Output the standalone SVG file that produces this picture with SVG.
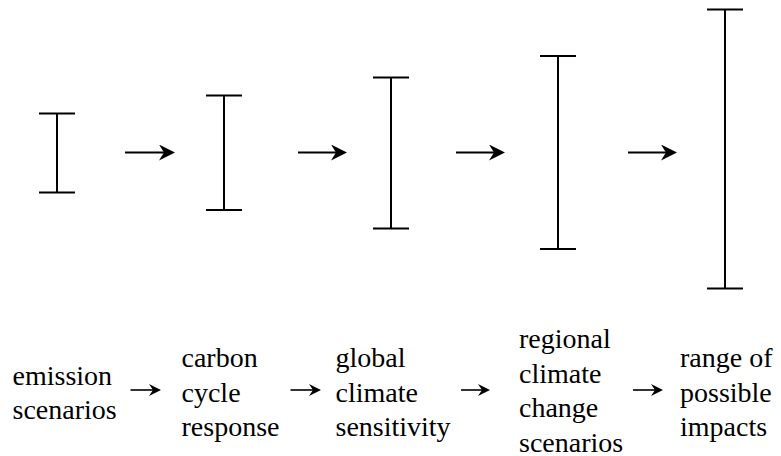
<svg xmlns="http://www.w3.org/2000/svg" width="781" height="456" viewBox="0 0 781 456">
<style>
.bar{stroke:#000;stroke-width:2;fill:none}
.con{stroke:#000;stroke-width:2;fill:none}
.con2{stroke:#000;stroke-width:1.6;fill:none}
.lbl{font-family:'Liberation Serif','Times New Roman',Tinos,'DejaVu Serif',serif;font-size:28px;fill:#000}
</style>
<defs>
<marker id="ah" markerUnits="userSpaceOnUse" viewBox="0 0 16 16" markerWidth="16" markerHeight="16" refX="11" refY="8" orient="auto">
<path d="M0,0 L16,8 L0,16 L5,8 Z" fill="#000"/>
</marker>
<marker id="ah2" markerUnits="userSpaceOnUse" viewBox="0 0 12 12" markerWidth="12" markerHeight="12" refX="8" refY="6" orient="auto">
<path d="M0,0 L12,6 L0,12 L4,6 Z" fill="#000"/>
</marker>
</defs>
<g id="bar1"><path class="bar" d="M57,113.5 V192.5 M39,113.5 H75 M39,192.5 H75"/></g>
<g id="bar2"><path class="bar" d="M224,95.5 V210 M206,95.5 H242 M206,210 H242"/></g>
<g id="bar3"><path class="bar" d="M391,77.5 V228.5 M373,77.5 H409 M373,228.5 H409"/></g>
<g id="bar4"><path class="bar" d="M558,56 V249 M540,56 H576 M540,249 H576"/></g>
<g id="bar5"><path class="bar" d="M725,9.5 V288.5 M707,9.5 H743 M707,288.5 H743"/></g>
<g id="label1" class="lbl"><text x="12.5" y="385">emission</text><text x="12.5" y="418.5">scenarios</text></g>
<g id="label2" class="lbl"><text x="181.5" y="367">carbon</text><text x="181.5" y="401.5">cycle</text><text x="181.5" y="436">response</text></g>
<g id="label3" class="lbl"><text x="335.5" y="367">global</text><text x="335.5" y="401.5">climate</text><text x="335.5" y="436">sensitivity</text></g>
<g id="label4" class="lbl"><text x="519" y="348">regional</text><text x="519" y="382.5">climate</text><text x="519" y="417">change</text><text x="519" y="451.5">scenarios</text></g>
<g id="label5" class="lbl"><text x="680" y="367">range of</text><text x="680" y="401.5">possible</text><text x="680" y="436">impacts</text></g>
<g id="connectors">
<line class="con" x1="125" y1="152.5" x2="170" y2="152.5" marker-end="url(#ah)"/>
<line class="con" x1="298" y1="152.5" x2="342" y2="152.5" marker-end="url(#ah)"/>
<line class="con" x1="456" y1="152.5" x2="500" y2="152.5" marker-end="url(#ah)"/>
<line class="con" x1="628" y1="152.5" x2="672" y2="152.5" marker-end="url(#ah)"/>
<line class="con2" x1="130.5" y1="390" x2="157" y2="390" marker-end="url(#ah2)"/>
<line class="con2" x1="290.5" y1="390" x2="317" y2="390" marker-end="url(#ah2)"/>
<line class="con2" x1="461" y1="390" x2="486" y2="390" marker-end="url(#ah2)"/>
<line class="con2" x1="633" y1="390" x2="659" y2="390" marker-end="url(#ah2)"/>
</g>
</svg>
